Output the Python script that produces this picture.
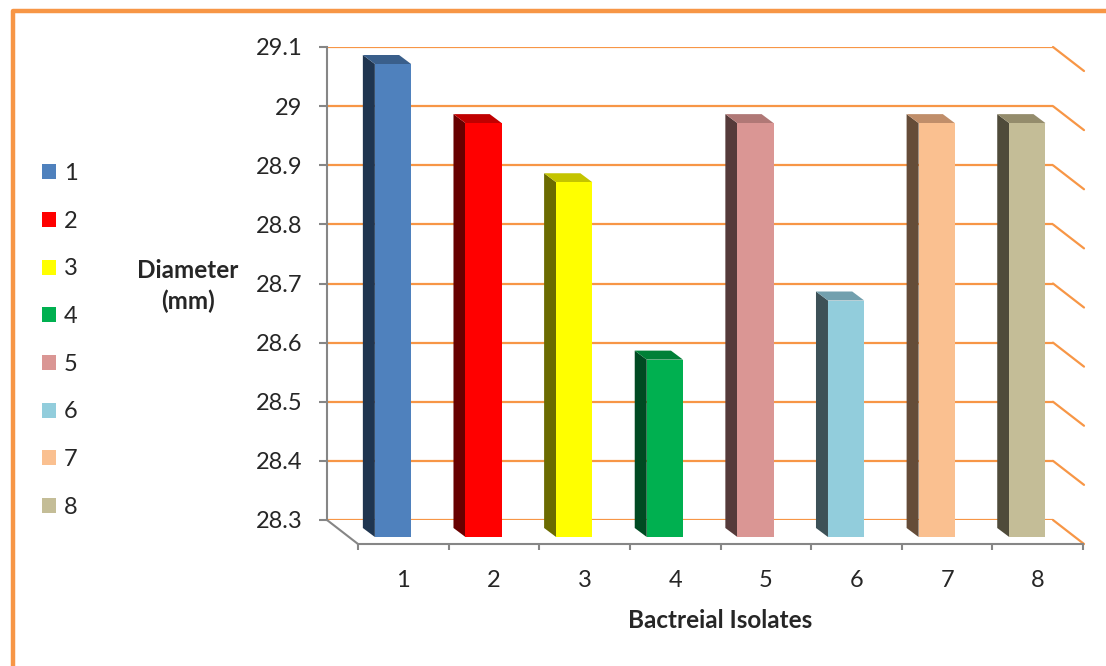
import numpy as np, pandas as pd, matplotlib.pyplot as plt, seaborn as sns
from matplotlib.patches import Polygon, Patch
from matplotlib.lines import Line2D
from matplotlib.ticker import FuncFormatter

# data
isolates = ["1", "2", "3", "4", "5", "6", "7", "8"]
diameter = [29.1, 29.0, 28.9, 28.6, 29.0, 28.7, 29.0, 29.0]
y_ticks = [28.3, 28.4, 28.5, 28.6, 28.7, 28.8, 28.9, 29.0, 29.1]

front_cols = ["#4F81BD", "#FF0000", "#FFFF00", "#00B050", "#DA9694", "#92CDDC", "#FAC090", "#C4BD97"]
side_cols = ["#1F3550", "#680000", "#6B6B00", "#004A22", "#553A3A", "#3D5157", "#654C38", "#4F4B3A"]
top_cols = ["#3A5F8B", "#C00000", "#C4C400", "#008037", "#B07876", "#72A0AE", "#C08E6A", "#948C6C"]

sns.set_style("white")
plt.rcParams["font.family"] = ["Lato", "DejaVu Sans"]

W, H = 1106, 666
ORANGE, GRAY = "#F79646", "#868686"
def fx(x): return x / W
def fy(y): return 1 - y / H

fig = plt.figure(figsize=(W / 100, H / 100), dpi=100)

# 1. BACK WALL (gridlines + value axis)
ax = fig.add_axes([fx(327), fy(520), (1053 - 327) / W, (520 - 47) / H])
ax.set_xlim(0, 1); ax.set_ylim(28.3, 29.1)
ax.set_yticks(y_ticks)
ax.yaxis.set_major_formatter(FuncFormatter(lambda v, _: f"{v:g}"))
ax.set_xticks([])
ax.tick_params(axis="y", length=5.8, width=1.5, color=GRAY, pad=12, labelsize=17, left=True)
ax.grid(axis="y", color=ORANGE, lw=1.6)
for s in ["top", "right", "bottom"]:
    ax.spines[s].set_visible(False)
ax.spines["left"].set_color(GRAY); ax.spines["left"].set_linewidth(1.5)
px_y = (520 - 47) / 0.8
for t in y_ticks:
    ax.plot([1, 1 + 31 / 726], [t, t - 24 / px_y], color=ORANGE, lw=1.6, clip_on=False)
ax.plot([0, 31 / 726], [28.3, 28.3 - 24 / px_y], color=GRAY, lw=1.5, clip_on=False)

# 2. FRONT PLANE (bars)
ax2 = fig.add_axes([fx(358), fy(537), (1083 - 358) / W, (537 - 64) / H])
ax2.patch.set_visible(False)
sns.barplot(x=isolates, y=diameter, hue=isolates, order=isolates, hue_order=isolates,
            palette=front_cols, saturation=1, width=0.4, linewidth=0, legend=False, ax=ax2)
ax2.set_xlim(-0.5, 7.5); ax2.set_ylim(28.3, 29.1)

bb = ax2.get_window_extent()
ddx = 12 / (bb.width / 8)
ddy = 9 / (bb.height / 0.8)
for i, p in enumerate(ax2.patches):
    p.set_x(p.get_x() - 0.114)
    p.set_zorder(3)
    x0, w, v = p.get_x(), p.get_width(), p.get_height()
    side = Polygon([(x0, 28.3), (x0, v), (x0 - ddx, v + ddy), (x0 - ddx, 28.3 + ddy)],
                   closed=True, facecolor=side_cols[i], edgecolor="none", zorder=2, clip_on=False)
    top = Polygon([(x0, v), (x0 + w, v), (x0 + w - ddx, v + ddy), (x0 - ddx, v + ddy)],
                  closed=True, facecolor=top_cols[i], edgecolor="none", zorder=2, clip_on=False)
    ax2.add_patch(side); ax2.add_patch(top)

ax2.set_yticks([]); ax2.set_xlabel(""); ax2.set_ylabel("")
for s in ["top", "right", "left"]:
    ax2.spines[s].set_visible(False)
ax2.spines["bottom"].set_position(("outward", 5.0))
ax2.spines["bottom"].set_color(GRAY); ax2.spines["bottom"].set_linewidth(1.5)
ax2.set_xticks(range(len(isolates)))
ax2.set_xticklabels(isolates)
ax2.set_xticks(np.arange(-0.5, len(isolates), 1), minor=True)
ax2.tick_params(axis="x", which="major", length=0, pad=19, labelsize=17, bottom=True)
ax2.tick_params(axis="x", which="minor", length=4.3, width=1.5, color=GRAY, direction="out", bottom=True)

# 3. LABELS, LEGEND, BORDER
fig.text(fx(188), fy(286), "Diameter\n(mm)", ha="center", va="center", fontsize=17.5,
         fontweight="bold", linespacing=1.42, multialignment="center")
fig.text(fx(720), fy(620), "Bactreial Isolates", ha="center", va="center", fontsize=17.5,
         fontweight="bold")

handles = [Patch(facecolor=c, edgecolor="none") for c in front_cols]
fig.legend(handles, isolates, loc="upper left", bbox_to_anchor=(fx(42), fy(163)),
           frameon=False, fontsize=17, labelspacing=1.13, handlelength=0.6,
           handleheight=0.6, handletextpad=0.33, borderpad=0, borderaxespad=0)

fig.add_artist(Line2D([fx(12.8), fx(12.8), 1.01], [-0.01, fy(10.5), fy(10.5)],
                      color=ORANGE, lw=3.2, solid_joinstyle="round"))

fig.savefig("out.png", dpi=100)
